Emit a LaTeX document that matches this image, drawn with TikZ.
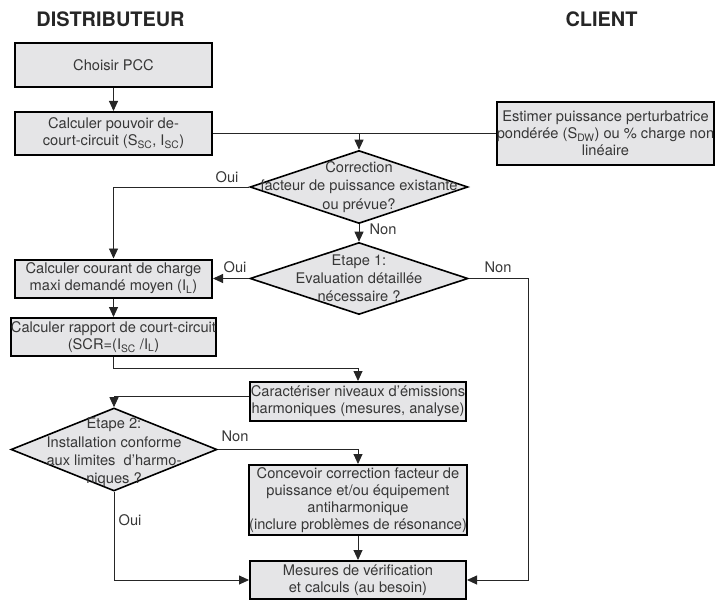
\documentclass[tikz,border=0pt]{standalone}
\usepackage{fontspec}
\setmainfont{TeX Gyre Heros}
\usetikzlibrary{shapes.geometric,arrows.meta}
\definecolor{boxfill}{RGB}{229,229,231}
\definecolor{txt}{RGB}{55,55,55}
\begin{document}
\begin{tikzpicture}[x=1bp,y=-1bp,
  box/.style={draw=black, line width=2bp, fill=boxfill, inner sep=0, align=center, font=\fontsize{14.7}{17}\selectfont, text=txt},
  dia/.style={diamond, draw=black, line width=1.6bp, fill=boxfill, inner sep=0},
  dtext/.style={align=center, font=\fontsize{14.7}{18.3}\selectfont, text=txt, inner sep=0},
  lab/.style={font=\fontsize{14.7}{16}\selectfont, text=txt, inner sep=0},
  conn/.style={draw=black!85, line width=0.9bp},
  arr/.style={conn, -{Triangle[length=10bp,width=9bp]}},
  title/.style={font=\bfseries\fontsize{20}{22}\selectfont, text=black!85}]
\useasboundingbox (0,0) rectangle (717,601);
\node[title] (t1) at (110.5,19.5) {DISTRIBUTEUR};
\node[title] (t2) at (601.5,19.5) {CLIENT};

\node[box, minimum width=197bp, minimum height=44bp] (b1) at (113.5,65) {Choisir PCC};
\node[box, minimum width=197bp, minimum height=43bp] (b2) at (113.5,133.5) {Calculer pouvoir de-\\court-circuit (S\textsubscript{SC}, I\textsubscript{SC})};
\node[box, minimum width=213bp, minimum height=63bp] (client) at (605.5,133.5) {Estimer puissance perturbatrice\\pondérée (S\textsubscript{DW}) ou \% charge non\\linéaire};
\node[box, minimum width=197bp, minimum height=38bp] (b3) at (113.5,278.5) {Calculer courant de charge\\maxi demandé moyen (I\textsubscript{L})};
\node[box, minimum width=197bp, minimum height=38bp] (b4) at (113.5,337) {Calculer rapport de court-circuit\\(SCR=(I\textsubscript{SC} /I\textsubscript{L})};
\node[box, minimum width=216bp, minimum height=39bp] (b5) at (358,401.5) {Caractériser niveaux d'émissions\\harmoniques (mesures, analyse)};
\node[box, minimum width=216bp, minimum height=70bp] (b6) at (358,500) {Concevoir correction facteur de\\puissance et/ou équipement\\antiharmonique\\(inclure problèmes de résonance)};
\node[box, minimum width=216bp, minimum height=38bp] (b7) at (358,580) {Mesures de vérification\\et calculs (au besoin)};

\node[dia, minimum width=218bp, minimum height=73bp] (d1) at (359,187) {};
\node[dtext] (d1t) at (d1) {Correction\\facteur de puissance existante\\ou prévue?};
\node[dia, minimum width=218bp, minimum height=72bp] (d2) at (359,278.5) {};
\node[dtext] (d2t) at (d2) {Etape 1:\\Evaluation détaillée\\nécessaire ?};
\node[dia, minimum width=206bp, minimum height=83bp] (d3) at (114,449.5) {};
\node[dtext] (d3t) at ([yshift=-3bp]d3.center) {Etape 2:\\Installation conforme\\aux limites~ d'harmo-\\niques ?};

\draw[arr] (b1) -- (b2);
\draw[conn] (b2.east) -- (client.west);
\coordinate (j1) at (d1.north |- b2.east);
\draw[arr] (j1) -- (d1.north);
\draw[arr] (d1.west) -| (b3.north);
\node[lab] (l1) at (227,177) {Oui};
\draw[arr] (d1.south) -- (d2.north);
\node[lab] (l2) at (383,229) {Non};
\draw[arr] (d2.west) -- (b3.east);
\node[lab] (l3) at (235,267) {Oui};
\coordinate (r1) at (528,278.5);
\draw[arr] (d2.east) -- (r1) |- (b7.east);
\node[lab] (l4) at (498,267) {Non};
\draw[arr] (b3) -- (b4);
\coordinate (j2) at (113.5,368);
\draw[arr] (b4.south) -- (j2) -| (b5.north);
\draw[arr] ([yshift=5bp]b5.west) -| (d3.north);
\draw[arr] (d3.east) -| (b6.north);
\node[lab] (l5) at (235,436) {Non};
\draw[arr] (b6) -- (b7);
\draw[arr] (d3.south) |- (b7.west);
\node[lab] (l6) at (130,520) {Oui};
\end{tikzpicture}
\end{document}
